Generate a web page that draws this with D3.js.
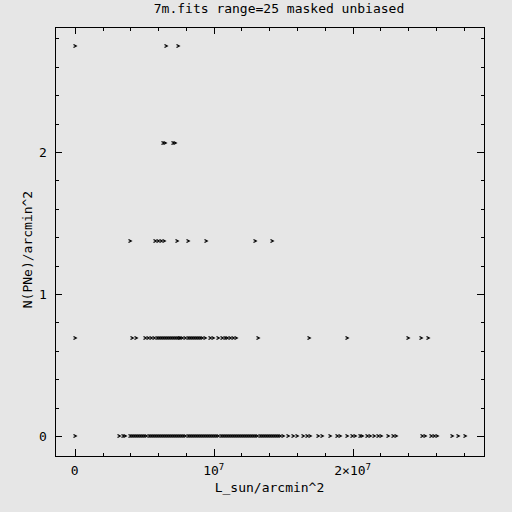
<!DOCTYPE html>
<html>
<head>
<meta charset="utf-8">
<script src="https://cdn.jsdelivr.net/npm/d3@7"></script>
<style>
  body { margin: 0; background: #e6e6e6; }
  svg { display: block; }
  text { font-family: "DejaVu Sans Mono", "Liberation Mono", monospace; fill: #000; }
</style>
</head>
<body>
<div id="chart"></div>
<script>
// L_sun/arcmin^2 values in units of 1e6, grouped by N(PNe)/arcmin^2 level
const levels = [0, 0.687, 1.374, 2.061, 2.748];

const lum0 = [0, 3.19, 3.47, 3.62, 3.98, 4.12,
    4.27, 4.42, 4.57, 4.72, 4.86, 5.01, 5.16, 5.31, 5.46, 5.6, 5.75, 5.9, 6.05, 6.2, 6.34,
    6.49, 6.64, 6.79, 6.94, 7.08, 7.23, 7.38, 7.53, 7.68, 7.82, 7.97, 8.12, 8.27, 8.42, 8.56,
    8.71, 8.86, 9.01, 9.16, 9.3, 9.45, 9.6, 9.75, 9.9, 10.04, 10.19, 10.34, 10.49, 10.64, 10.78,
    10.93, 11.08, 11.23, 11.38, 11.52, 11.67, 11.82, 11.97, 12.12, 12.26, 12.41, 12.56, 12.71,
    12.86, 13.0, 13.15, 13.3, 13.45, 13.6, 13.74, 13.89, 14.04, 14.19, 14.34, 14.48, 14.63, 14.77,
    14.99, 15.35, 15.71, 15.99, 16.42, 16.71, 16.93, 17.5, 17.79, 18.37, 18.87, 19.09, 19.59,
    19.95, 20.17, 20.53, 20.67, 21.03, 21.24, 21.53, 21.82, 22.04, 22.54, 22.9, 23.12,
    24.99, 25.2, 25.63, 25.84, 26.06, 27.14, 27.57, 28.07];

const lum1 = [0, 4.1, 4.41, 5.06, 5.27, 5.49, 5.71, 5.92, 6.06, 6.2, 6.35, 6.5, 6.64, 6.78,
    6.93, 7.07, 7.2, 7.35, 7.5, 7.6, 7.72, 7.94, 8.15, 8.29, 8.44, 8.58, 8.73, 8.87, 9.01,
    9.16, 9.37, 9.73, 9.94, 10.31, 10.6, 10.81, 10.96, 11.17, 11.39, 11.6, 13.18, 16.86,
    19.6, 23.99, 24.92, 25.43];

const lum2 = [3.98, 5.78, 5.99, 6.21, 6.42, 7.36, 8.15, 9.45, 12.97, 14.19];
const lum3 = [6.35, 6.5, 7.08, 7.22];
const lum4 = [0, 6.57, 7.43];

const xMajor = [0, 1e7, 2e7];
const yMajor = [0, 1, 2];
const yTickLabels = ["0", "1", "2"];

const title = "7m.fits range=25 masked unbiased";
const xTitle = "L_sun/arcmin^2";
const yTitle = "N(PNe)/arcmin^2";

const points = [];
[lum0, lum1, lum2, lum3, lum4].forEach((arr, i) => {
    arr.forEach(v => points.push({ x: v * 1e6, y: levels[i] }));
});

const width = 512, height = 512;
const margin = { top: 27, right: 28, bottom: 56, left: 55 };
const innerWidth = width - margin.left - margin.right;
const innerHeight = height - margin.top - margin.bottom;

const svg = d3.select("#chart").append("svg")
    .attr("width", width)
    .attr("height", height);

svg.append("rect").attr("width", width).attr("height", height).attr("fill", "#e6e6e6");

const g = svg.append("g").attr("transform", `translate(${margin.left},${margin.top})`);

const x = d3.scaleLinear().domain([-1.42e6, 2.945e7]).range([0, innerWidth]);
const y = d3.scaleLinear().domain([-0.141, 2.88]).range([innerHeight, 0]);

const xMinor = d3.range(0, 2.9e7, 2e6);
const yMinor = d3.range(0, 2.81, 0.2);

// Inward ticks on all four sides (no labels here)
function tickAxes(axisFn, scale, values, size, transform) {
    g.append("g")
        .attr("transform", transform)
        .call(axisFn(scale).tickValues(values).tickSize(size).tickFormat(""))
        .call(s => s.select(".domain").remove())
        .call(s => s.selectAll("text").remove())
        .call(s => s.selectAll("line").attr("stroke", "#000").attr("shape-rendering", "crispEdges"));
}
tickAxes(d3.axisBottom, x, xMinor, -3.5, `translate(0,${innerHeight})`);
tickAxes(d3.axisBottom, x, xMajor, -7, `translate(0,${innerHeight})`);
tickAxes(d3.axisTop, x, xMinor, -3.5, "translate(0,0)");
tickAxes(d3.axisTop, x, xMajor, -7, "translate(0,0)");
tickAxes(d3.axisLeft, y, yMinor, -3.5, "translate(0,0)");
tickAxes(d3.axisLeft, y, yMajor, -7, "translate(0,0)");
tickAxes(d3.axisRight, y, yMinor, -3.5, `translate(${innerWidth},0)`);
tickAxes(d3.axisRight, y, yMajor, -7, `translate(${innerWidth},0)`);

// Frame
g.append("rect")
    .attr("x", 0).attr("y", 0)
    .attr("width", innerWidth).attr("height", innerHeight)
    .attr("fill", "none")
    .attr("stroke", "#000")
    .attr("shape-rendering", "crispEdges");

// X tick labels
const xl = g.append("g").attr("font-size", "13px").attr("text-anchor", "middle");
xl.append("text").attr("x", x(0)).attr("y", innerHeight + 19).text("0");
const t1 = xl.append("text").attr("x", x(1e7)).attr("y", innerHeight + 19);
t1.append("tspan").text("10");
t1.append("tspan").attr("dy", -5).attr("font-size", "9px").text("7");
const t2 = xl.append("text").attr("x", x(2e7)).attr("y", innerHeight + 19);
t2.append("tspan").text("2\u00d710");
t2.append("tspan").attr("dy", -5).attr("font-size", "9px").text("7");

// Y tick labels
g.append("g").selectAll("text")
    .data(yMajor)
    .join("text")
    .attr("x", -12)
    .attr("y", d => y(d) + 5)
    .attr("text-anchor", "middle")
    .attr("font-size", "13px")
    .text((d, i) => yTickLabels[i]);

// Titles
svg.append("text")
    .attr("x", 279).attr("y", 13)
    .attr("text-anchor", "middle")
    .attr("font-size", "13px")
    .text(title);

g.append("text")
    .attr("x", innerWidth / 2).attr("y", innerHeight + 36)
    .attr("text-anchor", "middle")
    .attr("font-size", "13px")
    .text(xTitle);

g.append("text")
    .attr("transform", "rotate(-90)")
    .attr("x", -(innerHeight / 2 + 8)).attr("y", -23)
    .attr("text-anchor", "middle")
    .attr("font-size", "13px")
    .text(yTitle);

// Markers: small ">" chevrons
g.append("g").selectAll("path")
    .data(points)
    .join("path")
    .attr("transform", d => `translate(${Math.round(x(d.x))},${Math.round(y(d.y))})`)
    .attr("d", "M-1.5,-1.5 L1.2,0 L-1.5,1.5")
    .attr("fill", "none")
    .attr("stroke", "#000")
    .attr("stroke-width", 1.3);
</script>
</body>
</html>
